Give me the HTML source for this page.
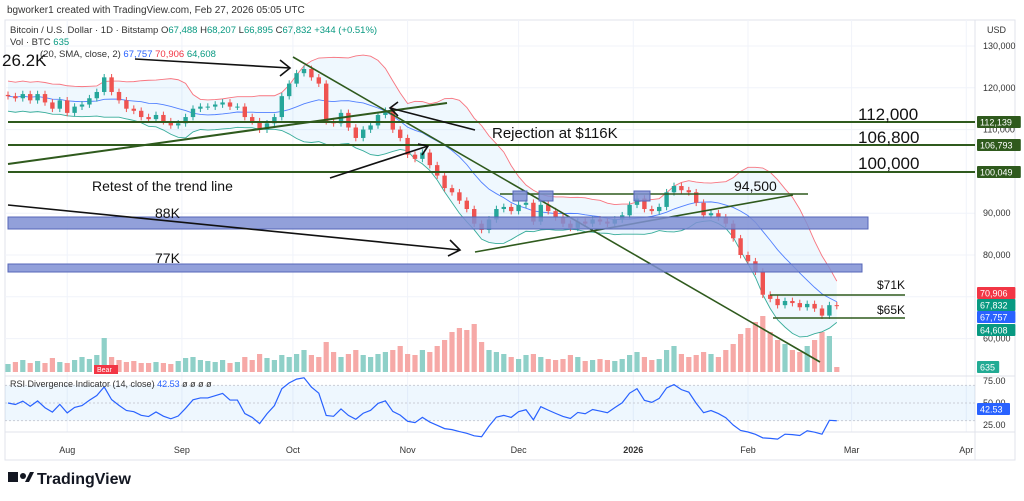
<!DOCTYPE html>
<html><head><meta charset="utf-8"><style>
body{margin:0;background:#fff;width:1024px;height:501px;overflow:hidden;font-family:"Liberation Sans",sans-serif}
svg{display:block}
</style></head><body>
<svg id="chart" width="1024" height="501" viewBox="0 0 1024 501" xmlns="http://www.w3.org/2000/svg" font-family="Liberation Sans, sans-serif">
<rect x="0" y="0" width="1024" height="501" fill="#fff"/>
<text x="7" y="13" font-size="10" fill="#333">bgworker1 created with TradingView.com, Feb 27, 2026 05:05 UTC</text>
<rect x="5" y="20" width="1010" height="440" fill="none" stroke="#e0e3eb"/>
<g id="grid"></g>
<g id="vol"></g>
<g id="bb"></g>
<g id="candles"></g>
<g id="rsi"></g>
<g id="annot" stroke="#2f5a1d" stroke-width="2" fill="none">
  <line x1="8" y1="122" x2="975" y2="122"/>
  <line x1="8" y1="145" x2="975" y2="145"/>
  <line x1="8" y1="172" x2="975" y2="172"/>
  <line x1="8" y1="164" x2="447" y2="103"/>
  <line x1="293" y1="57" x2="820" y2="362" stroke-width="1.6"/>
  <line x1="500" y1="194" x2="808" y2="194" stroke-width="1.6"/>
  <line x1="475" y1="252" x2="793" y2="195" stroke-width="1.6"/>
  <line x1="770" y1="295" x2="905" y2="295" stroke-width="1.6"/>
  <line x1="773" y1="318" x2="905" y2="318" stroke-width="1.6"/>
</g>
<g fill="#7f8fd4" fill-opacity="0.85" stroke="#5566b8">
  <rect x="8" y="217" width="860" height="12"/>
  <rect x="8" y="264" width="854" height="8"/>
  <rect x="513" y="191" width="14" height="10"/>
  <rect x="539" y="191" width="14" height="10"/>
  <rect x="634" y="191" width="16" height="10"/>
</g>
<g stroke="#111" stroke-width="1.6" fill="none">
  <path d="M135 59 L290 68 M280 60 L290 68 L280 76"/>
  <path d="M8 205 L460 250 M450 240 L460 250 L448 256"/>
  <path d="M330 178 L428 146 M418 144 L428 146 L422 155"/>
  <path d="M475 130 L390 108 M398 102 L390 108 L398 116"/>
</g>
<g fill="#111">
  <text x="2" y="66" font-size="17">26.2K</text>
  <text x="492" y="138" font-size="15">Rejection at $116K</text>
  <text x="92" y="191" font-size="14">Retest of the trend line</text>
  <text x="155" y="218" font-size="14">88K</text>
  <text x="155" y="263" font-size="14">77K</text>
  <text x="858" y="120" font-size="17">112,000</text>
  <text x="858" y="143" font-size="17">106,800</text>
  <text x="858" y="169" font-size="17">100,000</text>
  <text x="734" y="191" font-size="14">94,500</text>
  <text x="877" y="289" font-size="12">$71K</text>
  <text x="877" y="314" font-size="12">$65K</text>
</g>
<g font-size="9.5">
  <text x="10" y="33" fill="#333">Bitcoin / U.S. Dollar · 1D · Bitstamp <tspan fill="#333">O</tspan><tspan fill="#089981">67,488</tspan> H<tspan fill="#089981">68,207</tspan> L<tspan fill="#089981">66,895</tspan> C<tspan fill="#089981">67,832</tspan> <tspan fill="#089981">+344 (+0.51%)</tspan></text>
  <text x="10" y="45" fill="#333">Vol · BTC <tspan fill="#089981">635</tspan></text>
  <text x="40" y="57" fill="#333">(20, SMA, close, 2) <tspan fill="#2962ff">67,757</tspan> <tspan fill="#f23645">70,906</tspan> <tspan fill="#089981">64,608</tspan></text>
  <text x="10" y="387" fill="#333" font-size="9">RSI Divergence Indicator (14, close) <tspan fill="#2962ff">42.53</tspan> ø ø ø ø</text>
</g>
<rect x="94" y="365" width="24" height="9" fill="#f23645"/>
<text x="97" y="372" font-size="7" fill="#fff">Bear</text>
<g id="axis" font-size="9" fill="#333"></g>
<g id="taxis" font-size="9" fill="#333"></g>
<g>
  <rect x="8" y="472" width="10" height="10" fill="#131722"/><circle cx="23" cy="476" r="3" fill="#131722"/><path d="M25 482 L30 472 L34 472 L29 482Z" fill="#131722"/>
  <text x="37" y="484" font-size="16" font-weight="bold" fill="#131722">TradingView</text>
</g>
<text x="987" y="33" font-size="9" fill="#333">USD</text>
</svg>
<script>
const closes=[118,117.5,118.5,117,118.5,116.5,115,117,114,115.5,116,117.5,119,122.5,119,117,115,114.5,113,112.5,113.5,112,111,111.5,113,115,115.5,115.5,116,116.5,115.5,115.5,113,112,110,111.5,113,118,121,123.5,124.5,122.5,121,112,111.5,114,110.5,108,110,111,113.5,114.5,110,108,104,103,104.5,101.5,99,96,95,93,91,87.5,86,88.5,91,91.5,90.5,92,92.5,88,92,90.5,89,87.5,86.5,88,87.5,88.5,88,87.5,88.5,89.5,92,93.5,91,90.5,91.5,95,96.5,95.5,95,92.5,89.5,90,89,87.5,84,80,78.5,76,70.5,69.5,68,69,68.5,67.5,68.3,67.2,65.5,68,67.8];
const volumes=[8,10,12,9,11,9,14,10,9,12,15,13,17,34,15,12,10,11,9,9,10,9,8,11,14,15,12,11,10,12,9,10,15,12,18,14,12,17,15,18,22,17,15,30,20,15,18,22,17,15,18,20,22,26,18,17,22,20,26,32,40,44,42,48,30,22,20,18,15,13,17,18,15,13,12,13,17,15,11,12,13,12,11,13,17,20,15,12,13,22,26,18,15,17,20,18,15,22,28,38,44,50,56,40,32,28,22,20,26,32,40,36,5];
const priceTicks=[130000,120000,110000,90000,80000,60000];
const rsiTicks=["75.00","50.00","25.00"];
const months=["Aug","Sep","Oct","Nov","Dec","2026","Feb","Mar","Apr"];
const monthDays=[16,47,77,108,138,169,200,228,259];
const NS="http://www.w3.org/2000/svg";
const X0=8, STEP=7.4, PXDAY=3.7;
const xi=i=>X0+i*STEP;
const yp=k=>46+(130-k)*4.18;
const yr=r=>403-(r-50)*0.88;
function mk(tag,attrs,parent){const e=document.createElementNS(NS,tag);for(const k in attrs)e.setAttribute(k,attrs[k]);parent.appendChild(e);return e;}
const grid=document.getElementById('grid');
monthDays.forEach(d=>{mk('line',{x1:X0+d*PXDAY,x2:X0+d*PXDAY,y1:20,y2:432,stroke:'#f0f3fa'},grid);});
[130,120,110,100,90,80,70,60].forEach(k=>{mk('line',{x1:5,x2:975,y1:yp(k),y2:yp(k),stroke:'#f0f3fa'},grid);});
mk('line',{x1:5,x2:1015,y1:376,y2:376,stroke:'#e0e3eb'},grid);
mk('line',{x1:5,x2:1015,y1:432,y2:432,stroke:'#e0e3eb'},grid);
mk('line',{x1:975,x2:975,y1:20,y2:460,stroke:'#e0e3eb'},grid);
const vg=document.getElementById('vol');
volumes.forEach((v,i)=>{const up=i===0||closes[i]>=closes[i-1];const h=v*1.0;
 const r=mk('rect',{x:xi(i)-2.6,y:372-h,width:5.2,height:h,fill:up?'#8fd0c8':'#f6a9a7'},vg);
 
 });
const N=12,mid=[],up=[],lo=[];
closes.forEach((c,i)=>{const s=closes.slice(Math.max(0,i-N+1),i+1);const m=s.reduce((a,b)=>a+b,0)/s.length;
 const sd=Math.sqrt(s.reduce((a,b)=>a+(b-m)**2,0)/s.length);mid.push(m);const w=2*Math.max(sd,1.8);up.push(m+w);lo.push(m-w);});
const bb=document.getElementById('bb');
const pts=a=>a.map((v,i)=>xi(i)+','+yp(v)).join(' ');
const fill=mk('polygon',{points:pts(up)+' '+lo.map((v,i)=>[i,v]).reverse().map(([i,v])=>xi(i)+','+yp(v)).join(' '),fill:'#2196f3','fill-opacity':0.07},bb);


[[up,'#f7525f'],[mid,'#2962ff'],[lo,'#089981']].forEach(([a,c])=>{const p=mk('polyline',{points:pts(a),fill:'none',stroke:c,'stroke-width':0.9,'stroke-opacity':0.8},bb);
 
 });
const cg=document.getElementById('candles');
closes.forEach((c,i)=>{const o=i===0?c+0.3:closes[i-1];const upc=c>=o;const col=upc?'#26a69a':'#ef5350';
 const hi=Math.max(o,c)+0.8,lw=Math.min(o,c)-0.8;
 const g=mk('g',{},cg);
 
 
 mk('line',{x1:xi(i),x2:xi(i),y1:yp(hi),y2:yp(lw),stroke:col,'stroke-width':1},g);
 mk('rect',{x:xi(i)-2.2,y:yp(Math.max(o,c)),width:4.4,height:Math.max(1,Math.abs(yp(o)-yp(c))),fill:col},g);});
const rg=document.getElementById('rsi');
mk('rect',{x:5,y:yr(70),width:970,height:yr(30)-yr(70),fill:'#2196f3','fill-opacity':0.08},rg);
[70,50,30].forEach(v=>mk('line',{x1:5,x2:975,y1:yr(v),y2:yr(v),stroke:'#c9cdd6','stroke-dasharray':'2,2'},rg));
const P=8,rsi=[];let ag=1.0,al=1.0;
closes.forEach((c,i)=>{if(i===0){rsi.push(50);return;}const d=c-closes[i-1];const g=Math.max(d,0),l=Math.max(-d,0);
 ag=(ag*(P-1)+g)/P;al=(al*(P-1)+l)/P;
 rsi.push(100-100/(1+ag/al));});
const rl=mk('polyline',{points:rsi.map((r,i)=>xi(i)+','+yr(r)).join(' '),fill:'none',stroke:'#2962ff','stroke-width':1.2},rg);


const ax=document.getElementById('axis');
priceTicks.forEach(p=>{const t=mk('text',{x:983,y:yp(p/1000)+3},ax);t.textContent=p.toLocaleString('en-US');});
rsiTicks.forEach(s=>{const t=mk('text',{x:983,y:yr(parseFloat(s))+3},ax);t.textContent=s;});
const tags=[["112,139",122,'#2f5a1d'],["106,793",145,'#2f5a1d'],["100,049",172,'#2f5a1d'],["70,906",293,'#f23645'],["67,832",305,'#089981'],["67,757",317,'#2962ff'],["64,608",330,'#089981'],["635",367,'#22ab94'],["42.53",409,'#2962ff']];
tags.forEach(([s,y,c])=>{const g=mk('g',{},ax);
 
 
 mk('rect',{x:977,y:y-6,width:s.length*5.4+6,height:12,fill:c,rx:1},g);
 const t=mk('text',{x:980,y:y+3.5,fill:'#fff'},g);t.textContent=s;});
const ta=document.getElementById('taxis');
months.forEach((m,i)=>{const t=mk('text',{x:X0+monthDays[i]*PXDAY,y:453,'text-anchor':'middle','font-weight':m==='2026'?'bold':'normal'},ta);t.textContent=m;
 
 });
</script>
</body></html>
